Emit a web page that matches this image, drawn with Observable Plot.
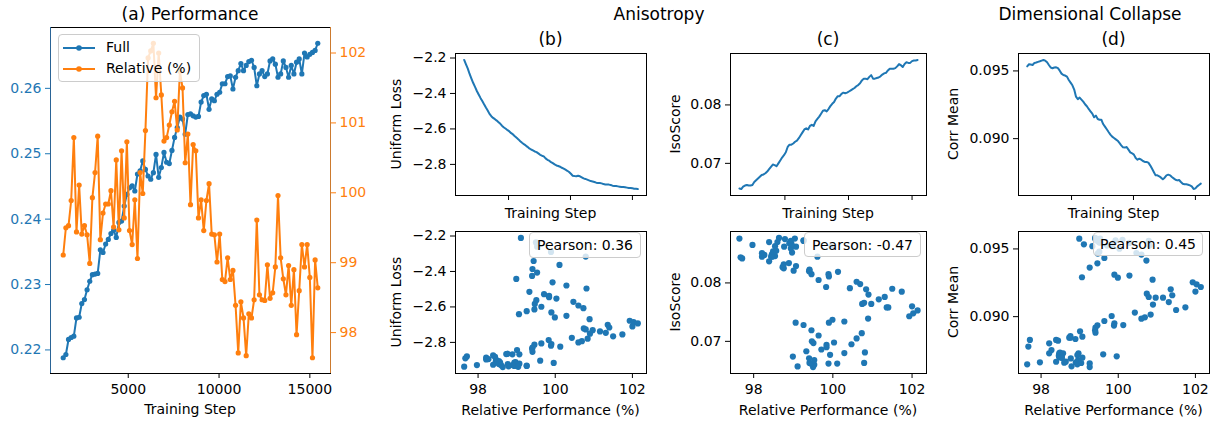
<!DOCTYPE html>
<html><head><meta charset="utf-8">
<script src="https://cdn.jsdelivr.net/npm/d3@7"></script>
<script src="https://cdn.jsdelivr.net/npm/@observablehq/plot@0.6"></script>
<style>
html,body{margin:0;padding:0;background:#fff;}
#fig{position:relative;width:1217px;height:421px;overflow:hidden;font-family:"DejaVu Sans",sans-serif;color:#000;}
.lbl{position:absolute;white-space:nowrap;line-height:1;transform:translate(-50%,-50%);}
.box{position:absolute;box-sizing:border-box;border:1px solid #cccccc;border-radius:4px;background:rgba(255,255,255,0.8);}
</style></head><body><div id="fig"></div>
<script>
// ---------------- data ----------------
const STEP_FIRST = 1420, STEP_EVERY = 146;
const full = [
 .2188,.2193,.2216,.2219,.2221,.2249,.2250,.2271,.2277,.2292,.2305,.2315,.2316,.2317,.2353,.2349,.2362,.2369,.2378,.2383,.2372,.2395,.2397,
 .2420,.2438,.2448,.2451,.2443,.2469,.2474,.2489,.2476,.2466,.2461,.2471,.2499,.2464,.2479,.2502,.2487,.2485,.2505,.2525,.2540,.2556,.2553,.2530,.2560,.2561,.2558,
 .2556,.2557,.2579,.2589,.2591,.2568,.2584,.2581,.2591,.2594,.2607,.2607,.2618,.2619,.2599,.2617,.2627,.2638,.2627,.2635,.2641,.2643,.2632,.2604,
 .2622,.2627,.2618,.2622,.2642,.2645,.2637,.2617,.2622,.2642,.2632,.2617,.2635,.2622,.2640,.2645,.2622,.2654,.2648,.2652,.2655,.2658,.2669];
const relative = [
 99.11,99.50,99.53,99.89,100.79,99.44,100.11,99.41,99.53,99.40,98.99,99.93,100.29,100.81,99.33,99.71,99.84,99.84,100.03,99.51,100.47,99.47,100.60,
 99.64,100.73,99.46,99.26,99.90,99.06,100.29,99.99,100.89,101.93,102.03,102.14,101.36,102.00,101.40,100.74,100.79,100.97,101.16,101.31,100.90,101.74,101.50,100.43,100.84,99.83,100.69,
 100.60,99.64,99.90,99.46,99.89,100.13,99.41,99.40,99.01,99.41,98.76,98.73,99.07,98.76,98.89,98.39,97.71,98.44,98.21,97.67,98.27,98.21,98.47,99.61,
 98.54,98.47,98.46,98.97,98.49,98.57,98.94,99.96,99.07,98.77,98.54,98.96,98.39,98.90,97.97,98.60,99.26,98.94,99.26,98.79,97.64,99.04,98.64];
const uniformLoss = [
 -2.211,-2.236,-2.260,-2.290,-2.316,-2.341,-2.363,-2.386,-2.406,-2.425,
 -2.442,-2.461,-2.479,-2.496,-2.515,-2.528,-2.538,-2.545,-2.553,-2.562,
 -2.571,-2.583,-2.592,-2.599,-2.607,-2.614,-2.624,-2.631,-2.641,-2.650,
 -2.659,-2.669,-2.678,-2.686,-2.693,-2.701,-2.710,-2.716,-2.721,-2.727,
 -2.731,-2.738,-2.746,-2.751,-2.755,-2.766,-2.774,-2.779,-2.787,-2.793,
 -2.800,-2.806,-2.809,-2.813,-2.819,-2.824,-2.830,-2.836,-2.843,-2.853,
 -2.864,-2.866,-2.867,-2.864,-2.867,-2.873,-2.879,-2.882,-2.886,-2.890,
 -2.894,-2.896,-2.899,-2.903,-2.905,-2.905,-2.907,-2.911,-2.913,-2.913,
 -2.914,-2.916,-2.920,-2.922,-2.922,-2.924,-2.926,-2.928,-2.928,-2.929,
 -2.931,-2.933,-2.933,-2.935,-2.937,-2.938,-2.939];
const isoScore = [
 .0657,.0656,.0660,.0662,.0663,.0662,.0662,.0663,.0668,.0671,
 .0674,.0677,.0680,.0681,.0683,.0686,.0690,.0694,.0698,.0697,
 .0695,.0700,.0705,.0710,.0714,.0719,.0728,.0732,.0732,.0734,
 .0737,.0739,.0743,.0748,.0753,.0758,.0760,.0758,.0764,.0766,
 .0764,.0772,.0776,.0780,.0785,.0790,.0791,.0789,.0793,.0798,
 .0802,.0805,.0811,.0815,.0815,.0819,.0821,.0820,.0821,.0823,
 .0825,.0827,.0829,.0832,.0834,.0837,.0842,.0845,.0845,.0844,
 .0848,.0851,.0845,.0845,.0846,.0847,.0849,.0852,.0854,.0855,
 .0859,.0862,.0862,.0862,.0863,.0866,.0870,.0868,.0865,.0870,
 .0873,.0872,.0872,.0875,.0876,.0876,.0877];
const corrMean = [
 .09534,.09549,.09547,.09544,.09559,.09562,.09567,.09571,.09576,.09581,
 .09576,.09564,.09544,.09525,.09520,.09525,.09527,.09520,.09502,.09480,
 .09470,.09466,.09458,.09433,.09414,.09394,.09362,.09310,.09291,.09303,
 .09288,.09273,.09254,.09239,.09219,.09202,.09185,.09158,.09170,.09145,
 .09140,.09140,.09108,.09089,.09069,.09049,.09030,.09015,.09005,.08995,
 .08985,.08968,.08951,.08936,.08934,.08938,.08919,.08899,.08892,.08882,
 .08857,.08845,.08852,.08845,.08835,.08828,.08828,.08823,.08803,.08779,
 .08754,.08729,.08729,.08722,.08712,.08700,.08712,.08729,.08734,.08729,
 .08717,.08707,.08697,.08692,.08695,.08680,.08667,.08663,.08663,.08660,
 .08655,.08648,.08628,.08633,.08648,.08658,.08668];

const stepTicks = [5000, 10000, 15000];
const fullTicks = [0.22, 0.23, 0.24, 0.25, 0.26];
const relTicks = [98, 99, 100, 101, 102];
const relScatterTicks = [98, 100, 102];
const uniformTicks = [-2.8, -2.6, -2.4, -2.2];
const isoTicks = [0.07, 0.08];
const corrTicks = [0.090, 0.095];
const seriesNames = ["Full", "Relative (%)"];
const pearsonLabels = ["Pearson: 0.36", "Pearson: -0.47", "Pearson: 0.45"];
const metricNames = ["Uniform Loss", "IsoScore", "Corr Mean"];
const panelTitles = ["(a) Performance", "(b)", "(c)", "(d)"];
const groupTitles = ["Anisotropy", "Dimensional Collapse"];
const xLabelStep = "Training Step", xLabelRel = "Relative Performance (%)";

// ---------------- helpers ----------------
const BLUE = "#1f77b4", ORANGE = "#ff7f0e";
const steps = full.map((_, i) => STEP_FIRST + i * STEP_EVERY);
const rows = steps.map((s, i) => ({step: s, full: full[i], rel: relative[i], uni: uniformLoss[i], iso: isoScore[i], corr: corrMean[i]}));
const pad = a => { const [lo, hi] = d3.extent(a); const m = (hi - lo) * 0.05; return [lo - m, hi + m]; };
const xDom = pad(steps), relDom = pad(relative);
const fig = document.getElementById("fig");
const M = {l: 60, r: 50, t: 10, b: 45};
function mk(frame, opts, marks) {
  const [x0, y0, x1, y1] = frame;
  const svg = Plot.plot({
    width: (x1 - x0) + M.l + M.r, height: (y1 - y0) + M.t + M.b,
    marginLeft: M.l, marginRight: M.r, marginTop: M.t, marginBottom: M.b,
    style: {background: "transparent", fontFamily: '"DejaVu Sans", sans-serif', fontSize: "14px", color: "#000", overflow: "visible"},
    ...opts, marks
  });
  svg.style.position = "absolute"; svg.style.left = (x0 - M.l) + "px"; svg.style.top = (y0 - M.t) + "px";
  svg.style.maxWidth = "none";
  fig.appendChild(svg);
  return svg;
}
function lbl(text, cx, cy, size = 14, rotate = 0, color = "#000") {
  const d = document.createElement("div");
  d.className = "lbl"; d.textContent = text;
  d.style.left = cx + "px"; d.style.top = cy + "px"; d.style.fontSize = size + "px"; d.style.color = color;
  if (rotate) d.style.transform = `translate(-50%,-50%) rotate(${rotate}deg)`;
  fig.appendChild(d);
}
function box(x0, y0, x1, y1) {
  const d = document.createElement("div");
  d.className = "box";
  Object.assign(d.style, {left: x0 + "px", top: y0 + "px", width: (x1 - x0) + "px", height: (y1 - y0) + "px"});
  fig.appendChild(d);
  return d;
}
const fmtInt = d => String(d);

// ---------------- panel (a) ----------------
const A = [50, 27, 330, 373];
mk(A, {x: {domain: xDom}, y: {domain: pad(full)}}, [
  Plot.frame({stroke: "#000"}),
  Plot.line(rows, {x: "step", y: "full", stroke: BLUE, strokeWidth: 2}),
  Plot.dot(rows, {x: "step", y: "full", r: 2.6, fill: BLUE}),
  Plot.ruleX([xDom[0]], {stroke: "#2a6496"}),
  Plot.axisX({ticks: stepTicks, tickSize: 5, tickPadding: 6, tickFormat: fmtInt, label: null}),
  Plot.axisY({ticks: fullTicks, tickSize: 5, tickPadding: 4, tickFormat: d3.format(".2f"), label: null, color: BLUE})
]);
mk(A, {x: {domain: xDom, axis: null}, y: {domain: relDom}}, [
  Plot.line(rows, {x: "step", y: "rel", stroke: ORANGE, strokeWidth: 2}),
  Plot.dot(rows, {x: "step", y: "rel", r: 2.6, fill: ORANGE}),
  Plot.ruleX([xDom[1]], {stroke: "#cc7a2e"}),
  Plot.axisY({anchor: "right", ticks: relTicks, tickSize: 5, tickPadding: 4, tickFormat: fmtInt, label: null, color: ORANGE})
]);
lbl(panelTitles[0], 190, 14, 17);
lbl(xLabelStep, 190, 409);
// legend
const lg = box(58, 34, 200, 82);
const sw = document.createElementNS("http://www.w3.org/2000/svg", "svg");
sw.setAttribute("width", 50); sw.setAttribute("height", 48);
Object.assign(sw.style, {position: "absolute", left: "0px", top: "0px", overflow: "visible"});
[[BLUE, 13], [ORANGE, 34]].forEach(([c, y]) => {
  sw.innerHTML += `<line x1="4" x2="36" y1="${y}" y2="${y}" stroke="${c}" stroke-width="2"/><circle cx="20" cy="${y}" r="2.8" fill="${c}"/>`;
});
lg.appendChild(sw);
lbl(seriesNames[0], 106 + 14, 47); 
document.querySelectorAll(".lbl")[2].style.transform = "translate(0,-50%)"; document.querySelectorAll(".lbl")[2].style.left = "106px";
lbl(seriesNames[1], 106, 68);
document.querySelectorAll(".lbl")[3].style.transform = "translate(0,-50%)";

// ---------------- panels (b),(c),(d) ----------------
const cols = [
  {x0: 455, x1: 646, key: "uni", ticks: uniformTicks, fmt: d3.format(".1f"), ylx: 396, title: panelTitles[1]},
  {x0: 730, x1: 926, key: "iso", ticks: isoTicks, fmt: d3.format(".2f"), ylx: 675, title: panelTitles[2]},
  {x0: 1018, x1: 1209, key: "corr", ticks: corrTicks, fmt: d3.format(".3f"), ylx: 952.5, title: panelTitles[3]}
];
const boxes = [[529, 232, 641, 258], [804, 232, 921, 257], [1093, 232, 1203, 256]];
cols.forEach((c, k) => {
  const yDom = pad(rows.map(r => r[c.key]));
  const top = [c.x0, 53, c.x1, 195], bot = [c.x0, 231, c.x1, 373];
  mk(top, {x: {domain: xDom}, y: {domain: yDom}}, [
    Plot.frame({stroke: "#000"}),
    Plot.line(rows, {x: "step", y: c.key, stroke: BLUE, strokeWidth: 2}),
    Plot.axisX({ticks: stepTicks, tickSize: 5, tickFormat: () => "", label: null}),
    Plot.axisY({ticks: c.ticks, tickSize: 5, tickPadding: 4, tickFormat: c.fmt, label: null})
  ]);
  mk(bot, {x: {domain: relDom}, y: {domain: yDom}}, [
    Plot.frame({stroke: "#000"}),
    Plot.dot(rows, {x: "rel", y: c.key, r: 3.1, fill: BLUE}),
    Plot.axisX({ticks: relScatterTicks, tickSize: 5, tickPadding: 6, tickFormat: fmtInt, label: null}),
    Plot.axisY({ticks: c.ticks, tickSize: 5, tickPadding: 4, tickFormat: c.fmt, label: null})
  ]);
  const cx = (c.x0 + c.x1) / 2;
  lbl(c.title, cx, 39, 17);
  lbl(xLabelStep, cx, 213);
  lbl(xLabelRel, cx, 410);
  lbl(metricNames[k], c.ylx, 124, 14, -90);
  lbl(metricNames[k], c.ylx, 302, 14, -90);
  const b = boxes[k];
  box(b[0], b[1], b[2], b[3]);
  lbl(pearsonLabels[k], (b[0] + b[2]) / 2, (b[1] + b[3]) / 2);
});
lbl(groupTitles[0], 659, 14, 17);
lbl(groupTitles[1], 1090, 14, 17);
</script></body></html>
